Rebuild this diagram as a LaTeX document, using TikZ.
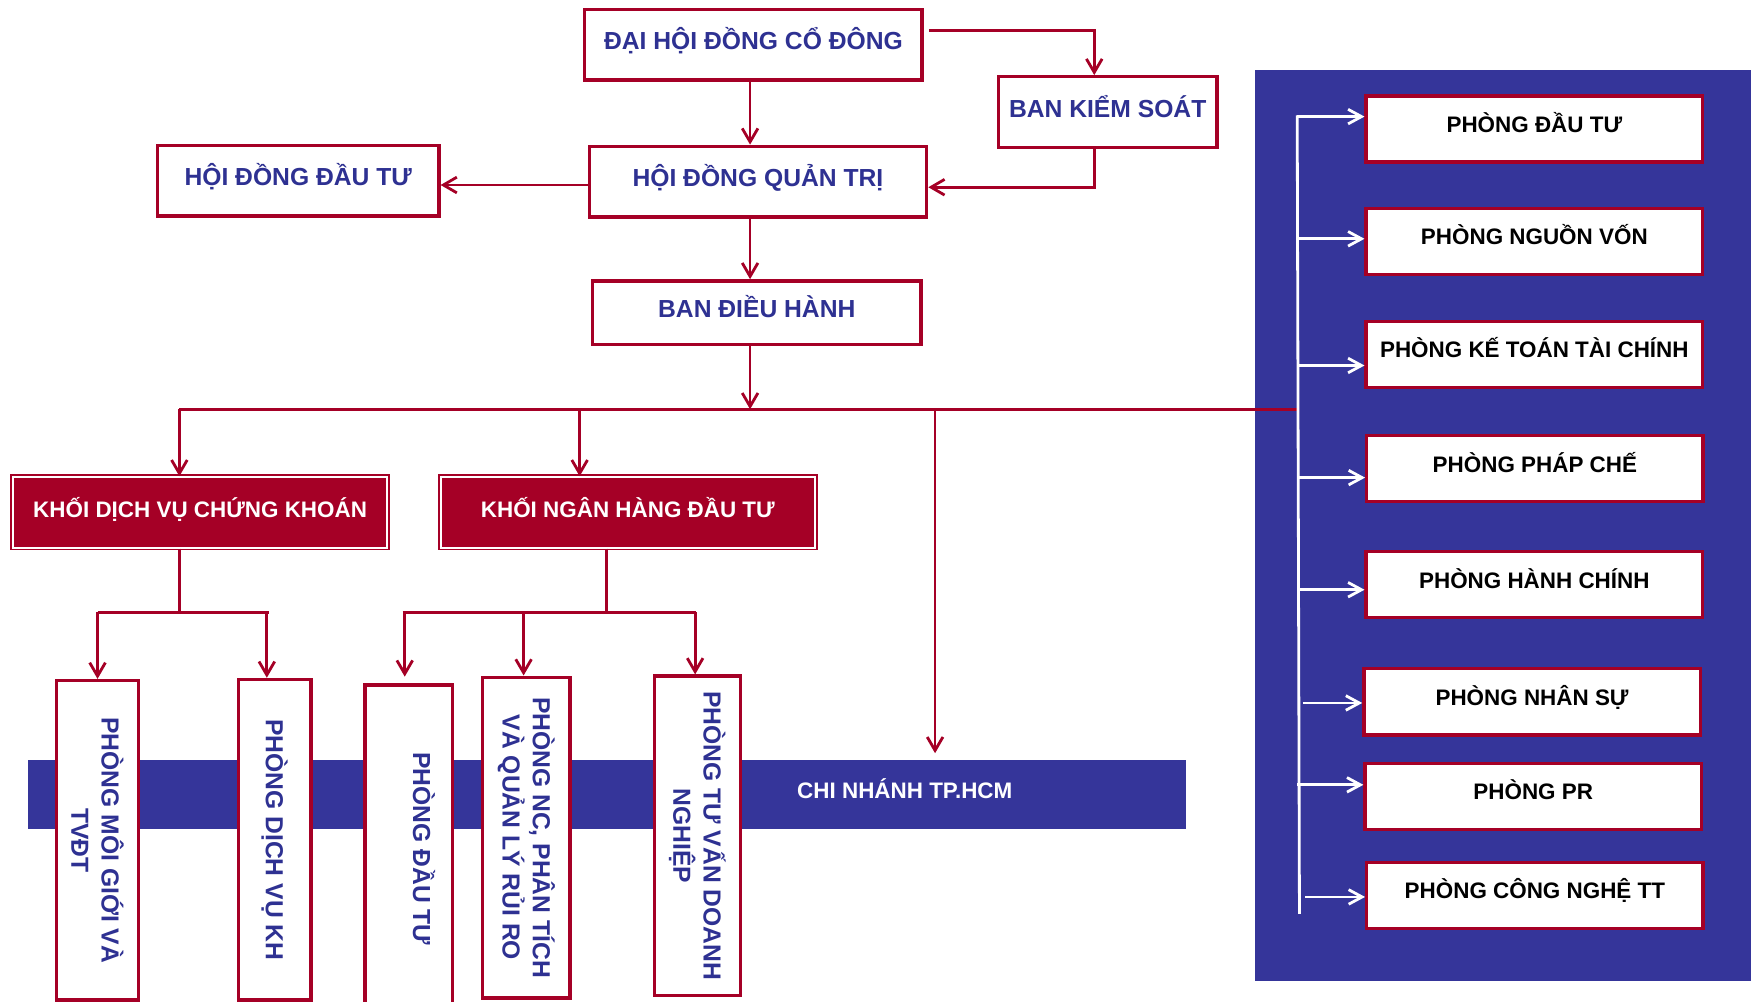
\documentclass[tikz,border=0pt]{standalone}
\usepackage{fontspec}
\setmainfont{Liberation Sans}
\usetikzlibrary{arrows.meta,calc}
\definecolor{dred}{HTML}{A50026}
\definecolor{tblue}{HTML}{2E3192}
\definecolor{pblue}{HTML}{35359A}
\begin{document}
\begin{tikzpicture}[x=1pt,y=-1pt,
  topbox/.style={draw=dred, line width=3pt, fill=white, text=tblue, inner sep=0pt,
    font=\bfseries\fontsize{22}{26}\selectfont, text height=19pt, text depth=10pt},
  rbox/.style={draw=dred, line width=3pt, fill=white, text=black, inner sep=0pt,
    font=\bfseries\fontsize{20}{24}\selectfont, text height=17pt, text depth=11pt,
    minimum width=300, minimum height=59},
  khoi/.style={draw=dred, double=white, double distance=2pt, line width=1.5pt, fill=dred,
    text=white, inner sep=0pt, font=\bfseries\fontsize{20}{24}\selectfont,
    text height=17pt, text depth=8pt, minimum width=334, minimum height=63},
  vbox/.style={draw=dred, line width=3pt, fill=white, text=tblue, inner sep=0pt,
    font=\bfseries\fontsize{22}{27}\selectfont, rotate=-90, align=center},
  band/.style={fill=pblue, draw=none, inner sep=0pt, minimum width=1033, minimum height=61},
  bandtext/.style={text=white, font=\bfseries\fontsize{20}{24}\selectfont, inner sep=0pt},
  rline/.style={draw=dred, line width=2.5pt},
  rarr/.style={draw=dred, line width=2.5pt, -{Straight Barb[length=12pt,width=14pt]}},
  wline/.style={draw=white, line width=2.5pt},
  warr/.style={draw=white, line width=2.5pt, -{Straight Barb[length=12pt,width=13pt]}}]
\clip (0,0) rectangle (1568,893);
\fill[white] (0,0) rectangle (1568,893);

% background shapes
\fill[pblue] (1119,62) rectangle (1562,875);
\node[band] (cn) at (541.5,708.5) {};
\node[bandtext] (cnt) at (807,703) {CHI NHÁNH TP.HCM};

% top boxes
\node[topbox, minimum width=301, minimum height=63] (dhdcd) at (672,40) {ĐẠI HỘI ĐỒNG CỔ ĐÔNG};
\node[topbox, minimum width=195, minimum height=63] (bks) at (988,100) {BAN KIỂM SOÁT};
\node[topbox, minimum width=301, minimum height=63] (hdqt) at (676,162) {HỘI ĐỒNG QUẢN TRỊ};
\node[topbox, minimum width=251, minimum height=63] (hddt) at (266,161) {HỘI ĐỒNG ĐẦU TƯ};
\node[topbox, minimum width=293, minimum height=57] (bdh) at (675,279) {BAN ĐIỀU HÀNH};

% khoi boxes
\node[khoi] (kdvck) at (178.5,457) {KHỐI DỊCH VỤ CHỨNG KHOÁN};
\node[khoi] (knhdt) at (560,457) {KHỐI NGÂN HÀNG ĐẦU TƯ};

% vertical boxes
\node[vbox, minimum width=285, minimum height=73] (b1) at (87,749.5) {PHÒNG MÔI GIỚI VÀ\\TVĐT};
\node[vbox, minimum width=286, minimum height=65] (b2) at (245,749) {PHÒNG DỊCH VỤ KH};
\node[vbox, minimum width=292, minimum height=78, text height=16pt, text depth=24pt] (b3) at (364.5,757) {PHÒNG ĐẦU TƯ};
\node[vbox, minimum width=286, minimum height=78] (b4) at (469.5,747) {PHÒNG NC, PHÂN TÍCH\\VÀ QUẢN LÝ RỦI RO};
\node[vbox, minimum width=285, minimum height=77] (b5) at (622,745.5) {PHÒNG TƯ VẤN DOANH\\NGHIỆP};

% right boxes
\node[rbox] (r1) at (1368.5,115) {PHÒNG ĐẦU TƯ};
\node[rbox] (r2) at (1368.5,215.5) {PHÒNG NGUỒN VỐN};
\node[rbox] (r3) at (1368.5,316) {PHÒNG KẾ TOÁN TÀI CHÍNH};
\node[rbox] (r4) at (1369,418) {PHÒNG PHÁP CHẾ};
\node[rbox] (r5) at (1368.5,521.5) {PHÒNG HÀNH CHÍNH};
\node[rbox] (r6) at (1366.5,626) {PHÒNG NHÂN SỰ};
\node[rbox] (r7) at (1367.5,710.5) {PHÒNG PR};
\node[rbox] (r8) at (1369,798.5) {PHÒNG CÔNG NGHỆ TT};

% top connectors
\coordinate (t1) at (669,0);
\draw[rarr] (dhdcd.south -| t1) -- (hdqt.north -| t1);
\draw[rarr] ($(dhdcd.east)+(5,-13)$) -| ([xshift=-12pt]bks.north);
\draw[rarr] ([xshift=-12pt]bks.south) |- ([yshift=-5pt]hdqt.east);
\draw[rarr] ([yshift=-3pt]hdqt.west) -- ([yshift=-3pt]hdqt.west -| hddt.east);
\draw[rarr] (hdqt.south -| t1) -- (bdh.north -| t1);

% bus
\coordinate (bus) at (669,365);
\coordinate (busL) at (160,365);
\coordinate (bus2) at (517,365);
\coordinate (bus3) at (834,365);
\coordinate (busR) at (1157,365);
\draw[rline] (busL) -- (busR);
\draw[rarr] (bdh.south -| t1) -- (bus);
\draw[rarr] (busL) -- (busL |- kdvck.north);
\draw[rarr] (bus2) -- (bus2 |- knhdt.north);
\draw[rarr, shorten >=6pt] (bus3) -- (bus3 |- cn.north);

% khoi dich vu chung khoan branches
\coordinate (j1) at (160,546);
\coordinate (h1a) at (87,546);
\coordinate (h1b) at (240,546);
\coordinate (h1c) at (238,546);
\draw[rline] (kdvck.south -| j1) -- (j1);
\draw[rline] (h1a) -- (h1b);
\draw[rarr] (h1a) -- (h1a |- b1.west);
\draw[rarr] (h1c) -- (h1c |- b2.west);

% khoi ngan hang dau tu branches
\coordinate (j2) at (541,546);
\coordinate (h2a) at (359,546);
\coordinate (h2b) at (621,546);
\coordinate (a3) at (361,546);
\coordinate (a4) at (467,546);
\coordinate (a5) at (620,546);
\draw[rline] (knhdt.south -| j2) -- (j2);
\draw[rline] (h2a) -- (h2b);
\draw[rarr, shorten >=6pt] (a3) -- (a3 |- b3.west);
\draw[rarr] (a4) -- (a4 |- b4.west);
\draw[rarr] (a5) -- (a5 |- b5.west);

% white tree in panel
\coordinate (wt) at (1157,103);
\coordinate (wb) at (1159,815);
\draw[wline] (wt) -- (wb);
\coordinate (w1) at (1157,104);
\coordinate (w2) at (1157,213);
\coordinate (w3) at (1157,326);
\coordinate (w4) at (1157,426);
\coordinate (w5) at (1157,526);
\coordinate (w6) at (1162,627);
\coordinate (w7) at (1157,700);
\coordinate (w8) at (1164,800);
\draw[warr] (w1) -- (w1 -| r1.west);
\draw[warr] (w2) -- (w2 -| r2.west);
\draw[warr] (w3) -- (w3 -| r3.west);
\draw[warr] (w4) -- (w4 -| r4.west);
\draw[warr] (w5) -- (w5 -| r5.west);
\draw[warr] (w6) -- (w6 -| r6.west);
\draw[warr] (w7) -- (w7 -| r7.west);
\draw[warr] (w8) -- (w8 -| r8.west);
\end{tikzpicture}
\end{document}
